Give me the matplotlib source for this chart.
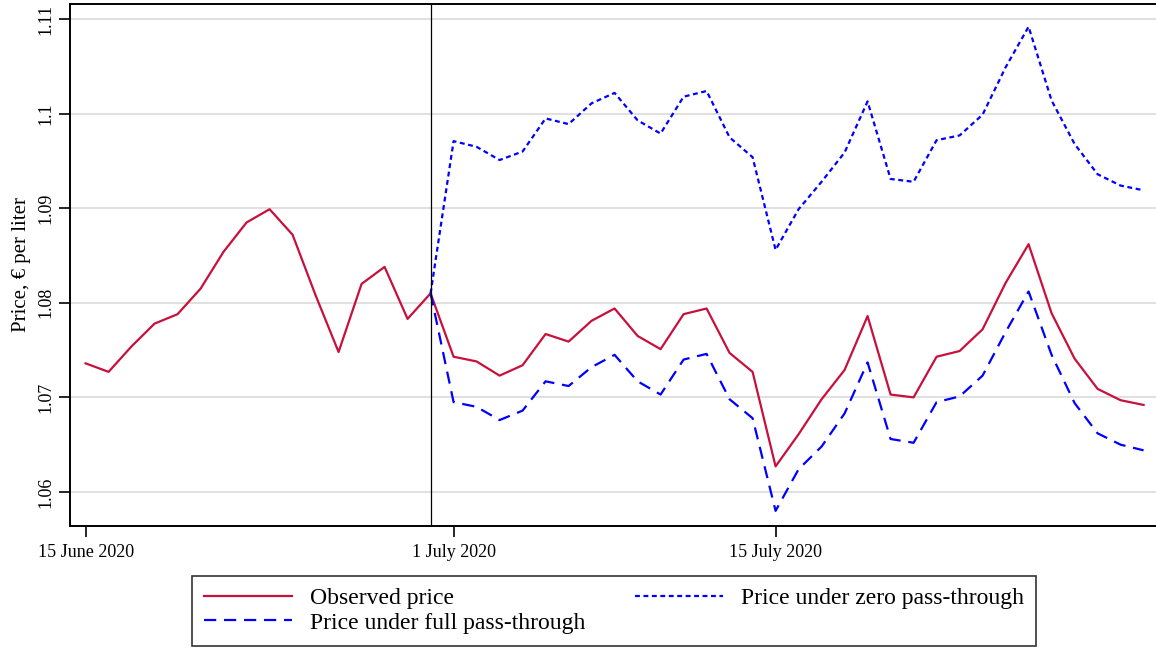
import numpy as np
import pandas as pd
import matplotlib
matplotlib.use("Agg")
import matplotlib.pyplot as plt

plt.rcParams['font.family'] = ['Liberation Serif', 'DejaVu Serif']

# daily dates, 15 June - 31 July 2020
dates = pd.date_range("2020-06-15", "2020-07-31", freq="D")
cutoff = pd.Timestamp("2020-06-30")

observed = [1.0736, 1.0727, 1.0754, 1.0778, 1.0788, 1.0815, 1.0854, 1.0885,
            1.0899, 1.0872, 1.0808, 1.0748, 1.0820, 1.0838, 1.0783, 1.0810,
            1.0743, 1.0738, 1.0723, 1.0734, 1.0767, 1.0759, 1.0781, 1.0794,
            1.0765, 1.0751, 1.0788, 1.0794, 1.0747, 1.0727, 1.0627, 1.0661,
            1.0698, 1.0729, 1.0786, 1.0703, 1.0700, 1.0743, 1.0749, 1.0772,
            1.0821, 1.0862, 1.0789, 1.0741, 1.0709, 1.0697, 1.0692]

# counterfactuals start on 30 June
full_pt = [1.0810, 1.0695, 1.0690, 1.0676, 1.0686, 1.0717, 1.0712, 1.0732,
           1.0745, 1.0717, 1.0703, 1.0740, 1.0746, 1.0698, 1.0678, 1.0580,
           1.0624, 1.0648, 1.0683, 1.0737, 1.0656, 1.0652, 1.0695, 1.0701,
           1.0723, 1.0769, 1.0812, 1.0745, 1.0694, 1.0662, 1.0650, 1.0644]

zero_pt = [1.0810, 1.0971, 1.0965, 1.0951, 1.0960, 1.0995, 1.0989, 1.1011,
           1.1022, 1.0993, 1.0979, 1.1018, 1.1024, 1.0975, 1.0954, 1.0856,
           1.0899, 1.0928, 1.0959, 1.1013, 1.0931, 1.0928, 1.0972, 1.0977,
           1.0999, 1.1049, 1.1092, 1.1014, 1.0968, 1.0936, 1.0924, 1.0919]

yticks = [1.06, 1.07, 1.08, 1.09, 1.1, 1.11]
ytick_labels = ["1.06", "1.07", "1.08", "1.09", "1.1", "1.11"]
xticks = pd.to_datetime(["2020-06-15", "2020-07-01", "2020-07-15"])
xtick_labels = ["15 June 2020", "1 July 2020", "15 July 2020"]

red = '#C8103C'
blue = '#0000FF'

fig = plt.figure(figsize=(11.56, 6.48), dpi=100)
ax = fig.add_axes([0.0606, 0.1883, 0.9394, 0.8055])

after = dates[dates >= cutoff]
ax.plot(dates, observed, color=red, lw=1.6, label='Observed price')
ax.plot(after, full_pt, color=blue, lw=1.6, ls=(0, (5.5, 3.5)),
        label='Price under full pass-through')
ax.plot(after, zero_pt, color=blue, lw=1.6, ls=(0, (2.2, 1.6)),
        label='Price under zero pass-through')

ax.axvline(cutoff, color='black', lw=0.9)

for y in yticks:
    ax.axhline(y, color='#DDDDDD', lw=1.3, zorder=0)

ax.set_ylim(1.0564, 1.1116)
ax.set_xlim(dates[0] - pd.Timedelta(hours=16.2), dates[0] + pd.Timedelta(days=46.54))

ax.set_yticks(yticks)
ax.set_yticklabels(ytick_labels, rotation=90, va='center', fontsize=13)
ax.set_xticks(xticks)
ax.set_xticklabels(xtick_labels, fontsize=13)
ax.tick_params(axis='both', direction='out', length=8, width=1.2, color='black')
ax.tick_params(axis='x', pad=5)
ax.tick_params(axis='y', pad=3)
ax.set_ylabel('Price, € per liter', fontsize=15, labelpad=5)

ax.spines['right'].set_visible(False)
for s in ['left', 'bottom', 'top']:
    ax.spines[s].set_linewidth(1.4)

handles, labels = ax.get_legend_handles_labels()
leg = fig.legend(handles, labels, ncol=2, loc='upper center',
                 bbox_to_anchor=(0.531, 0.1111), fontsize=17,
                 frameon=True, fancybox=False, edgecolor='black',
                 handlelength=3.75, columnspacing=2.1, labelspacing=0.12,
                 borderpad=0.5, borderaxespad=0, handletextpad=0.75)
leg.get_frame().set_linewidth(1.2)

fig.savefig('out.png', dpi=100)
